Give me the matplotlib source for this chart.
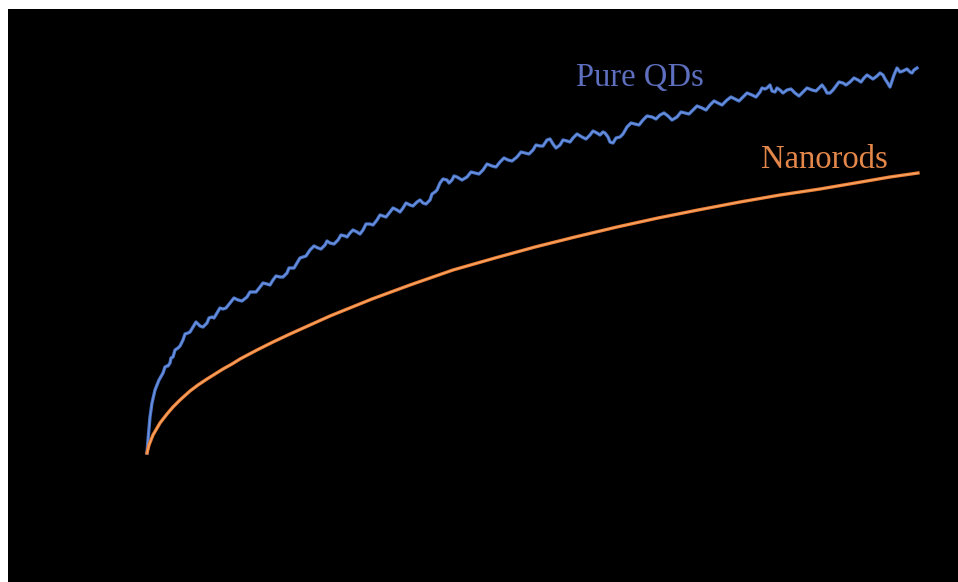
import matplotlib
matplotlib.use("Agg")
import matplotlib.pyplot as plt

# Pure QDs series (arbitrary units)
qd_x = [0, 1, 3, 5, 8, 12, 16, 18, 20, 21,
        23, 24, 26, 28, 31, 33, 36, 38, 41, 43,
        46, 49, 53, 56, 60, 62, 65, 67, 70, 73,
        76, 79, 83, 87, 91, 95, 100, 103, 106, 109,
        113, 116, 120, 123, 126, 129, 133, 136, 140, 142,
        145, 147, 150, 153, 156, 159, 163, 167, 171, 174,
        178, 180, 183, 187, 191, 194, 198, 200, 203, 206,
        210, 213, 216, 219, 223, 226, 230, 233, 236, 239,
        243, 246, 250, 253, 256, 259, 263, 266, 270, 273,
        276, 279, 283, 285, 288, 290, 293, 296, 300, 302,
        305, 307, 310, 315, 320, 324, 328, 332, 336, 340,
        345, 349, 353, 357, 361, 365, 370, 374, 378, 382,
        386, 389, 393, 396, 400, 403, 406, 409, 413, 416,
        420, 423, 426, 430, 435, 439, 443, 446, 450, 453,
        456, 458, 461, 463, 466, 469, 473, 476, 480, 484,
        488, 492, 496, 500, 505, 509, 513, 517, 521, 525,
        530, 534, 538, 542, 546, 550, 555, 559, 563, 567,
        571, 575, 580, 584, 588, 592, 596, 600, 605, 609,
        613, 615, 618, 620, 623, 625, 628, 630, 633, 636,
        640, 644, 648, 652, 656, 660, 665, 669, 673, 675,
        678, 680, 683, 686, 689, 692, 696, 699, 703, 707,
        711, 714, 717, 720, 723, 726, 730, 733, 736, 738,
        740, 743, 745, 747, 750, 753, 756, 760, 763, 765,
        767, 770]
qd_y = [0, 13, 36, 50, 63, 73, 80, 86, 87, 87,
        90, 95, 96, 103, 105, 107, 113, 119, 120, 121,
        126, 131, 127, 126, 130, 135, 136, 135, 140, 145,
        144, 145, 150, 155, 153, 152, 156, 161, 161, 161,
        166, 170, 169, 168, 173, 177, 176, 176, 180, 185,
        185, 185, 190, 195, 196, 197, 203, 207, 205, 204,
        208, 212, 210, 209, 213, 218, 217, 216, 220, 223,
        221, 219, 223, 229, 229, 228, 233, 238, 237, 236,
        241, 245, 243, 241, 245, 250, 248, 247, 251, 253,
        250, 249, 253, 259, 261, 263, 270, 274, 273, 270,
        273, 277, 276, 273, 276, 281, 280, 279, 283, 289,
        287, 286, 291, 295, 293, 292, 296, 301, 300, 299,
        303, 308, 307, 307, 313, 314, 309, 305, 308, 313,
        312, 311, 315, 319, 316, 314, 318, 322, 320, 318,
        321, 320, 316, 311, 310, 315, 316, 319, 326, 330,
        329, 328, 333, 337, 336, 334, 338, 340, 337, 333,
        336, 341, 340, 339, 343, 347, 345, 343, 348, 352,
        350, 348, 353, 356, 354, 352, 356, 360, 358, 356,
        361, 365, 364, 365, 368, 362, 361, 365, 363, 360,
        363, 364, 360, 357, 361, 365, 363, 362, 366, 368,
        364, 360, 360, 363, 367, 371, 370, 368, 371, 375,
        373, 371, 375, 378, 376, 374, 377, 380, 378, 374,
        371, 366, 372, 378, 385, 381, 382, 384, 381, 380,
        383, 385]

# Nanorods series (arbitrary units)
nr_x = [0, 2, 6, 13, 20, 26, 33, 43, 51, 60, 68, 76, 85, 93, 110, 126, 143, 183, 225,
        263, 306, 348, 388, 428, 470, 511, 551, 593, 633, 673, 714, 743, 771]
nr_y = [0, 8, 18, 30, 39, 46, 53, 62, 68, 74, 79, 84, 89, 94, 103, 111, 119, 137, 154,
        168, 183, 195, 206, 216, 226, 235, 243, 251, 258, 264, 271, 276, 280]

labels = ["Pure QDs", "Nanorods"]

fig = plt.figure(figsize=(9.58, 5.82), dpi=100, facecolor="white")
ax = fig.add_axes([8 / 958, 0, 950 / 958, 573 / 582])
ax.set_facecolor("black")
for s in ax.spines.values():
    s.set_visible(False)
ax.set_xticks([])
ax.set_yticks([])
ax.set_xlim(-139, 811)
ax.set_ylim(-129, 444)

ax.plot(qd_x, qd_y, color="#4472C4", lw=2.4, solid_joinstyle="round")
ax.plot(qd_x, qd_y, color="#7E9BE6", lw=0.9, alpha=0.8)
ax.plot(nr_x, nr_y, color="#ED7D31", lw=2.4, solid_joinstyle="round")
ax.plot(nr_x, nr_y, color="#F6B27A", lw=0.9, alpha=0.8)

ax.text(493, 375, labels[0], color="#5D6FBE", fontsize=23.5,
        family="Liberation Serif", ha="center", va="center")
ax.text(677, 293, labels[1], color="#E3874A", fontsize=23.5,
        family="Liberation Serif", ha="center", va="center")

fig.savefig("out.png", dpi=100, facecolor="white")
